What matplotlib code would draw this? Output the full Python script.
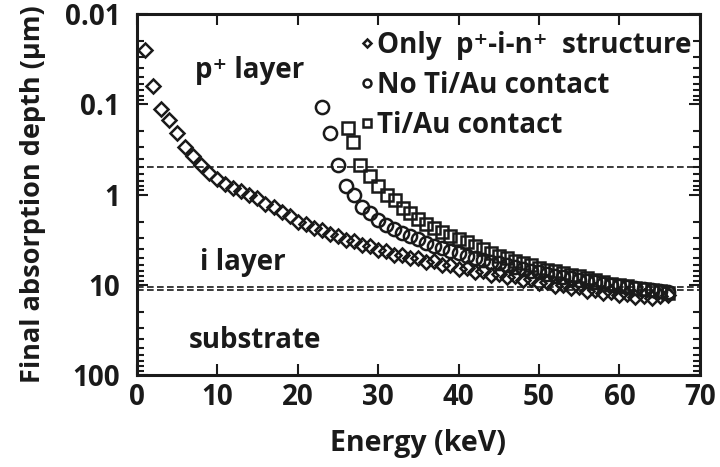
import matplotlib
matplotlib.use('Agg')
import matplotlib.pyplot as plt
from matplotlib.ticker import LogLocator, NullFormatter, FixedLocator

plt.rcParams['font.family'] = ['Open Sans', 'DejaVu Sans']
plt.rcParams['font.weight'] = 'bold'

# Only p+-i-n+ structure (diamonds)
e_pin = list(range(1, 67))
d_pin = [0.025, 0.062, 0.112, 0.15, 0.21, 0.30, 0.37, 0.47, 0.58, 0.68,
         0.76, 0.85, 0.92, 1.02, 1.10, 1.26, 1.38, 1.58, 1.72, 2.0,
         2.1, 2.35, 2.45, 2.75, 2.85, 3.2, 3.25, 3.6, 3.7, 4.1,
         4.2, 4.7, 4.7, 5.1, 5.1, 5.6, 5.5, 6.0, 6.0, 6.7,
         6.6, 7.2, 7.1, 7.7, 7.6, 8.3, 8.1, 8.8, 8.7, 9.5,
         9.3, 10.2, 10.0, 10.8, 10.6, 11.6, 11.4, 12.3, 12.0, 13.0,
         12.8, 13.6, 13.2, 13.9, 13.3, 13.0]

# No Ti/Au contact (circles)
e_no = list(range(23, 67))
d_no = [0.106, 0.21, 0.47, 0.81, 1.0, 1.36, 1.62, 1.92, 2.18, 2.4,
        2.65, 2.9, 3.15, 3.45, 3.7, 3.95, 4.25, 4.5, 4.8, 5.05,
        5.3, 5.55, 5.8, 6.1, 6.4, 6.7, 7.0, 7.3, 7.6, 7.9,
        8.2, 8.5, 8.8, 9.1, 9.4, 9.7, 10.0, 10.3, 10.6, 10.9,
        11.2, 11.5, 11.8, 12.0]

# Ti/Au contact (squares)
e_ti = [26.2, 26.9, 27.7, 29.0, 30.0, 31.1, 32.1, 33.1, 34.0] + list(range(35, 67))
d_ti = [0.185, 0.26, 0.47, 0.63, 0.81, 1.0, 1.15, 1.42, 1.62,
        1.85, 2.1, 2.35, 2.6, 2.85, 3.1, 3.4, 3.7, 4.0, 4.4,
        4.8, 5.1, 5.4, 5.8, 6.1, 6.5, 6.8, 7.1, 7.5, 7.8,
        8.1, 8.5, 8.9, 9.3, 9.7, 10.0, 10.4, 10.8, 11.1, 11.4,
        11.8, 12.2]

# layer boundaries (um)
boundaries = [0.5, 10.5, 11.5]

fig = plt.figure(figsize=(7.2, 4.67), dpi=100)
ax = fig.add_axes([0.19, 0.197, 0.782, 0.773])

ink = '#1a1a1a'
mk = dict(linestyle='none', markerfacecolor='none', markeredgecolor=ink,
          markeredgewidth=1.8)
ax.plot(e_pin, d_pin, marker='D', markersize=7.5, label='Only  p\u207a-i-n\u207a  structure', **mk)
ax.plot(e_no, d_no, marker='o', markersize=9.5, label='No Ti/Au contact', **mk)
ax.plot(e_ti, d_ti, marker='s', markersize=8.5, label='Ti/Au contact', **mk)

for b in boundaries:
    ax.axhline(b, color=ink, linestyle=(0, (4, 2)), linewidth=1.2, zorder=0)

ax.set_yscale('log')
ax.set_ylim(100, 0.01)
ax.set_xlim(0, 70)
ax.xaxis.set_major_locator(FixedLocator(range(0, 71, 10)))
ax.yaxis.set_major_locator(FixedLocator([0.01, 0.1, 1, 10, 100]))
ax.yaxis.set_minor_locator(LogLocator(base=10, subs=range(2, 10), numticks=20))
ax.yaxis.set_minor_formatter(NullFormatter())
ax.set_yticklabels(['0.01', '0.1', '1', '10', '100'])

ax.tick_params(which='both', direction='in', top=True, right=True, width=1.5, color=ink,
               labelcolor=ink)
ax.tick_params(which='major', length=8, labelsize=20)
ax.tick_params(which='minor', length=5)
ax.tick_params(axis='y', pad=12)
ax.tick_params(axis='x', pad=6)
for s in ax.spines.values():
    s.set_linewidth(2.2)
    s.set_color(ink)

ax.set_xlabel('Energy (keV)', fontsize=20.5, fontweight='bold', labelpad=12, color=ink)
ax.set_ylabel('Final absorption depth (\u00b5m)', fontsize=19.5, fontweight='bold',
              labelpad=13, color=ink)

ax.text(14, 0.042, 'p\u207a layer', fontsize=20, ha='center', va='center', color=ink)
ax.text(13.2, 5.6, 'i layer', fontsize=20, ha='center', va='center', color=ink)
ax.text(14.7, 41, 'substrate', fontsize=20, ha='center', va='center', color=ink)

leg = ax.legend(loc='upper right', bbox_to_anchor=(1.015, 1.0), frameon=False,
                fontsize=20, handlelength=0.4, handletextpad=0.15, labelspacing=0.4,
                markerscale=0.6, borderaxespad=0.2)
for t in leg.get_texts():
    t.set_color(ink)

fig.savefig('out.png', dpi=100)
